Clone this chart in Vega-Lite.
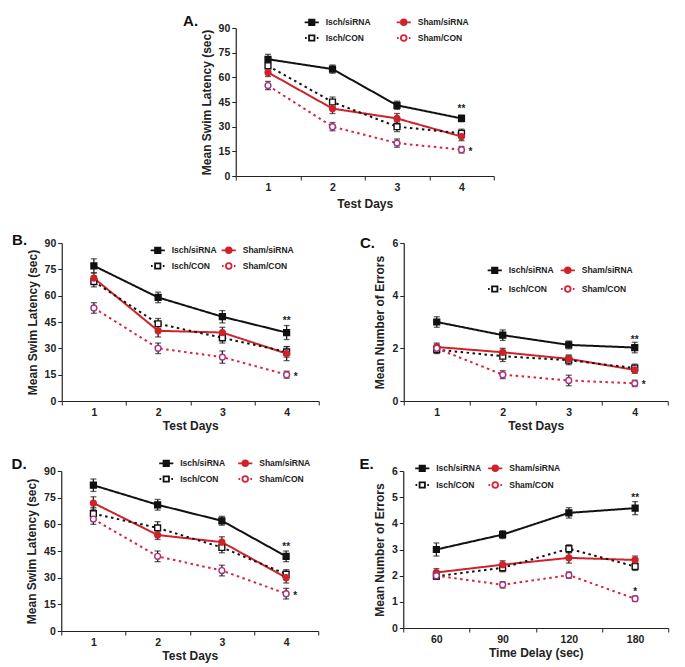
{
  "$schema": "https://vega.github.io/schema/vega-lite/v6.json",
  "background": "white",
  "padding": {"left": 11, "top": 14, "right": 5, "bottom": 5},
  "config": {
    "font": "Liberation Sans",
    "view": {"stroke": null},
    "axis": {"labelFontWeight": "bold", "labelFontSize": 10.5, "labelColor": "#222", "titleFontWeight": "bold", "titleFontSize": 12, "titleColor": "#222", "domainColor": "#222", "tickColor": "#222", "grid": false, "tickSize": 4, "domainWidth": 1.2, "tickWidth": 1, "labelPadding": 2},
    "axisX": {"labelAngle": 0, "tickBand": "extent", "titlePadding": 3},
    "axisY": {"titlePadding": 5},
    "legend": {"labelFontSize": 8.5, "labelFontWeight": "bold", "labelColor": "#222", "symbolSize": 200, "symbolStrokeWidth": 1.8, "labelOffset": 6, "padding": 0, "rowPadding": 1, "orient": "none", "direction": "horizontal", "columns": 2, "title": null},
    "title": {"fontSize": 15, "fontWeight": "bold", "anchor": "start", "frame": "bounds", "color": "#111"}
  },
  "datasets": {
    "A": [
      {"day": 1, "series": "Isch/siRNA", "mean": 71, "lo": 68, "hi": 74},
      {"day": 2, "series": "Isch/siRNA", "mean": 65, "lo": 62.5, "hi": 67.5},
      {"day": 3, "series": "Isch/siRNA", "mean": 43, "lo": 40.5, "hi": 45.5},
      {"day": 4, "series": "Isch/siRNA", "mean": 35, "lo": 33, "hi": 37},
      {"day": 1, "series": "Sham/siRNA", "mean": 63, "lo": 60.5, "hi": 65.5},
      {"day": 2, "series": "Sham/siRNA", "mean": 41, "lo": 38, "hi": 44},
      {"day": 3, "series": "Sham/siRNA", "mean": 35, "lo": 32, "hi": 38},
      {"day": 4, "series": "Sham/siRNA", "mean": 24, "lo": 21.5, "hi": 26.5},
      {"day": 1, "series": "Isch/CON", "mean": 67, "lo": 64, "hi": 70},
      {"day": 2, "series": "Isch/CON", "mean": 45, "lo": 42, "hi": 48},
      {"day": 3, "series": "Isch/CON", "mean": 30, "lo": 27, "hi": 33},
      {"day": 4, "series": "Isch/CON", "mean": 26, "lo": 23.5, "hi": 28.5},
      {"day": 1, "series": "Sham/CON", "mean": 55, "lo": 52.5, "hi": 57.5},
      {"day": 2, "series": "Sham/CON", "mean": 30, "lo": 27.5, "hi": 32.5},
      {"day": 3, "series": "Sham/CON", "mean": 20, "lo": 17.5, "hi": 22.5},
      {"day": 4, "series": "Sham/CON", "mean": 16, "lo": 14, "hi": 18}
    ],
    "Astars": [
      {"day": 4, "y": 40.5, "label": "**", "pos": "above"},
      {"day": 4, "y": 16, "label": "*", "pos": "right"}
    ],
    "B": [
      {"day": 1, "series": "Isch/siRNA", "mean": 77, "lo": 73, "hi": 81},
      {"day": 2, "series": "Isch/siRNA", "mean": 59, "lo": 56, "hi": 62},
      {"day": 3, "series": "Isch/siRNA", "mean": 48, "lo": 44.5, "hi": 51.5},
      {"day": 4, "series": "Isch/siRNA", "mean": 39, "lo": 35, "hi": 43},
      {"day": 1, "series": "Sham/siRNA", "mean": 70, "lo": 67, "hi": 73},
      {"day": 2, "series": "Sham/siRNA", "mean": 40, "lo": 36.5, "hi": 43.5},
      {"day": 3, "series": "Sham/siRNA", "mean": 39, "lo": 36, "hi": 42},
      {"day": 4, "series": "Sham/siRNA", "mean": 27, "lo": 23, "hi": 31},
      {"day": 1, "series": "Isch/CON", "mean": 68, "lo": 65, "hi": 71},
      {"day": 2, "series": "Isch/CON", "mean": 44, "lo": 41, "hi": 47},
      {"day": 3, "series": "Isch/CON", "mean": 36, "lo": 33, "hi": 39},
      {"day": 4, "series": "Isch/CON", "mean": 28, "lo": 25, "hi": 31},
      {"day": 1, "series": "Sham/CON", "mean": 53, "lo": 50, "hi": 56},
      {"day": 2, "series": "Sham/CON", "mean": 30, "lo": 27, "hi": 33},
      {"day": 3, "series": "Sham/CON", "mean": 25, "lo": 21.5, "hi": 28.5},
      {"day": 4, "series": "Sham/CON", "mean": 15, "lo": 13, "hi": 17}
    ],
    "Bstars": [
      {"day": 4, "y": 45.5, "label": "**", "pos": "above"},
      {"day": 4, "y": 15, "label": "*", "pos": "right"}
    ],
    "C": [
      {"day": 1, "series": "Isch/siRNA", "mean": 3.0, "lo": 2.8, "hi": 3.2},
      {"day": 2, "series": "Isch/siRNA", "mean": 2.5, "lo": 2.3, "hi": 2.7},
      {"day": 3, "series": "Isch/siRNA", "mean": 2.13, "lo": 1.98, "hi": 2.28},
      {"day": 4, "series": "Isch/siRNA", "mean": 2.03, "lo": 1.83, "hi": 2.23},
      {"day": 1, "series": "Sham/siRNA", "mean": 2.05, "lo": 1.9, "hi": 2.2},
      {"day": 2, "series": "Sham/siRNA", "mean": 1.85, "lo": 1.7, "hi": 2.0},
      {"day": 3, "series": "Sham/siRNA", "mean": 1.6, "lo": 1.45, "hi": 1.75},
      {"day": 4, "series": "Sham/siRNA", "mean": 1.18, "lo": 1.05, "hi": 1.31},
      {"day": 1, "series": "Isch/CON", "mean": 1.95, "lo": 1.8, "hi": 2.1},
      {"day": 2, "series": "Isch/CON", "mean": 1.7, "lo": 1.5, "hi": 1.9},
      {"day": 3, "series": "Isch/CON", "mean": 1.55, "lo": 1.38, "hi": 1.72},
      {"day": 4, "series": "Isch/CON", "mean": 1.25, "lo": 1.1, "hi": 1.4},
      {"day": 1, "series": "Sham/CON", "mean": 2.0, "lo": 1.85, "hi": 2.15},
      {"day": 2, "series": "Sham/CON", "mean": 1.0, "lo": 0.85, "hi": 1.15},
      {"day": 3, "series": "Sham/CON", "mean": 0.78, "lo": 0.58, "hi": 0.98},
      {"day": 4, "series": "Sham/CON", "mean": 0.67, "lo": 0.55, "hi": 0.79}
    ],
    "Cstars": [
      {"day": 4, "y": 2.33, "label": "**", "pos": "above"},
      {"day": 4, "y": 0.67, "label": "*", "pos": "right"}
    ],
    "D": [
      {"day": 1, "series": "Isch/siRNA", "mean": 82, "lo": 78.5, "hi": 85.5},
      {"day": 2, "series": "Isch/siRNA", "mean": 71, "lo": 68, "hi": 74},
      {"day": 3, "series": "Isch/siRNA", "mean": 62, "lo": 59.5, "hi": 64.5},
      {"day": 4, "series": "Isch/siRNA", "mean": 42, "lo": 39, "hi": 45},
      {"day": 1, "series": "Sham/siRNA", "mean": 72, "lo": 68.5, "hi": 75.5},
      {"day": 2, "series": "Sham/siRNA", "mean": 54, "lo": 51.5, "hi": 56.5},
      {"day": 3, "series": "Sham/siRNA", "mean": 50, "lo": 47, "hi": 53},
      {"day": 4, "series": "Sham/siRNA", "mean": 30, "lo": 27, "hi": 33},
      {"day": 1, "series": "Isch/CON", "mean": 66, "lo": 62.5, "hi": 69.5},
      {"day": 2, "series": "Isch/CON", "mean": 58, "lo": 54.5, "hi": 61.5},
      {"day": 3, "series": "Isch/CON", "mean": 47, "lo": 44, "hi": 50},
      {"day": 4, "series": "Isch/CON", "mean": 32, "lo": 29.5, "hi": 34.5},
      {"day": 1, "series": "Sham/CON", "mean": 63, "lo": 60, "hi": 66},
      {"day": 2, "series": "Sham/CON", "mean": 42, "lo": 39, "hi": 45},
      {"day": 3, "series": "Sham/CON", "mean": 34, "lo": 31, "hi": 37},
      {"day": 4, "series": "Sham/CON", "mean": 21, "lo": 18, "hi": 24}
    ],
    "Dstars": [
      {"day": 4, "y": 47.5, "label": "**", "pos": "above"},
      {"day": 4, "y": 21, "label": "*", "pos": "right"}
    ],
    "E": [
      {"delay": 60, "series": "Isch/siRNA", "mean": 3.0, "lo": 2.75, "hi": 3.25},
      {"delay": 90, "series": "Isch/siRNA", "mean": 3.57, "lo": 3.42, "hi": 3.72},
      {"delay": 120, "series": "Isch/siRNA", "mean": 4.4, "lo": 4.2, "hi": 4.6},
      {"delay": 180, "series": "Isch/siRNA", "mean": 4.58, "lo": 4.33, "hi": 4.83},
      {"delay": 60, "series": "Sham/siRNA", "mean": 2.12, "lo": 1.97, "hi": 2.27},
      {"delay": 90, "series": "Sham/siRNA", "mean": 2.42, "lo": 2.27, "hi": 2.57},
      {"delay": 120, "series": "Sham/siRNA", "mean": 2.68, "lo": 2.48, "hi": 2.88},
      {"delay": 180, "series": "Sham/siRNA", "mean": 2.6, "lo": 2.45, "hi": 2.75},
      {"delay": 60, "series": "Isch/CON", "mean": 1.98, "lo": 1.86, "hi": 2.1},
      {"delay": 90, "series": "Isch/CON", "mean": 2.3, "lo": 2.15, "hi": 2.45},
      {"delay": 120, "series": "Isch/CON", "mean": 3.03, "lo": 2.88, "hi": 3.18},
      {"delay": 180, "series": "Isch/CON", "mean": 2.35, "lo": 2.2, "hi": 2.5},
      {"delay": 60, "series": "Sham/CON", "mean": 2.0, "lo": 1.88, "hi": 2.12},
      {"delay": 90, "series": "Sham/CON", "mean": 1.65, "lo": 1.53, "hi": 1.77},
      {"delay": 120, "series": "Sham/CON", "mean": 2.02, "lo": 1.9, "hi": 2.14},
      {"delay": 180, "series": "Sham/CON", "mean": 1.12, "lo": 1.02, "hi": 1.22}
    ],
    "Estars": [
      {"delay": 180, "y": 4.95, "label": "**", "pos": "above"},
      {"delay": 180, "y": 1.38, "label": "*", "pos": "above"}
    ]
  },
  "vconcat": [
    {
      "width": 258, "height": 148,
      "title": {"text": "A.", "dx": -17, "offset": -15},
      "encoding": {
        "x": {"field": "day", "type": "ordinal", "scale": {"type": "band", "paddingInner": 0, "paddingOuter": 0}, "axis": {"title": "Test Days", "titlePadding": 6}},
        "y": {"field": "mean", "type": "quantitative", "scale": {"domain": [0, 90]}, "axis": {"values": [0, 15, 30, 45, 60, 75, 90], "title": "Mean Swim Latency (sec)"}}
      },
      "layer": [
        {
          "data": {"name": "A"},
          "mark": {"type": "line", "strokeWidth": 2},
          "encoding": {
            "stroke": {"field": "series", "type": "nominal", "scale": {"domain": ["Isch/siRNA", "Sham/siRNA", "Isch/CON", "Sham/CON"], "range": ["#111111", "#d0222a", "#111111", "#d6243e"]}, "legend": null},
            "strokeDash": {"field": "series", "type": "nominal", "scale": {"domain": ["Isch/siRNA", "Sham/siRNA", "Isch/CON", "Sham/CON"], "range": [[1, 0], [1, 0], [2.5, 3.5], [2.5, 3.5]]}, "legend": null}
          }
        },
        {
          "data": {"name": "A"},
          "mark": {"type": "errorbar", "ticks": {"size": 6, "thickness": 1.3}, "thickness": 1.3, "color": "#222222"},
          "encoding": {"y": {"field": "lo", "type": "quantitative", "title": "Mean Swim Latency (sec)"}, "y2": {"field": "hi"}}
        },
        {
          "data": {"name": "A"},
          "transform": [{"filter": "indexof(datum.series, 'Isch') == 0"}],
          "mark": {"type": "square", "size": 34, "strokeWidth": 1.4, "opacity": 1},
          "encoding": {
            "fill": {"field": "series", "type": "nominal", "scale": {"domain": ["Isch/siRNA", "Sham/siRNA", "Isch/CON", "Sham/CON"], "range": ["#111111", "#d0222a", "#ffffff", "#ffffff"]}, "legend": null},
            "stroke": {"field": "series", "type": "nominal", "legend": null}
          }
        },
        {
          "data": {"name": "A"},
          "transform": [{"filter": "indexof(datum.series, 'Sham') == 0"}],
          "mark": {"type": "circle", "size": 34, "strokeWidth": 1.4, "opacity": 1},
          "encoding": {
            "fill": {"field": "series", "type": "nominal", "legend": null},
            "stroke": {"condition": {"test": "datum.series == 'Sham/CON'", "value": "#a8307a"}, "value": "#d0222a"}
          }
        },
        {
          "data": {"name": "A"},
          "transform": [{"filter": "false"}],
          "mark": {"type": "point", "size": 200, "strokeWidth": 1.8, "opacity": 1},
          "encoding": {
            "shape": {"field": "series", "type": "nominal", "scale": {"domain": ["Isch/siRNA", "Sham/siRNA", "Isch/CON", "Sham/CON"], "range": ["M-1,0H1M-0.38,-0.38H0.38V0.38H-0.38Z", "M-1,0H1M0.4,0A0.4,0.4,0,1,1,-0.4,0A0.4,0.4,0,1,1,0.4,0Z", "M-0.95,0H-0.72M0.72,0H0.95M-0.38,-0.38H0.38V0.38H-0.38Z", "M-0.95,0H-0.72M0.72,0H0.95M0.4,0A0.4,0.4,0,1,1,-0.4,0A0.4,0.4,0,1,1,0.4,0Z"]},
              "legend": {"legendX": 68, "legendY": -14, "columnPadding": 22, "rowPadding": 1}},
            "fill": {"field": "series", "type": "nominal", "legend": {"legendX": 68, "legendY": -14, "columnPadding": 22, "rowPadding": 1}},
            "stroke": {"field": "series", "type": "nominal", "legend": {"legendX": 68, "legendY": -14, "columnPadding": 22, "rowPadding": 1}}
          }
        },
        {
          "data": {"name": "Astars"},
          "transform": [{"filter": "datum.pos == 'above'"}],
          "mark": {"type": "text", "fontWeight": "bold", "fontSize": 10, "baseline": "middle", "fill": "#222"},
          "encoding": {"y": {"field": "y", "type": "quantitative"}, "text": {"field": "label"}}
        },
        {
          "data": {"name": "Astars"},
          "transform": [{"filter": "datum.pos == 'right'"}],
          "mark": {"type": "text", "fontWeight": "bold", "fontSize": 10, "baseline": "middle", "align": "left", "dx": 7, "dy": 2, "fill": "#222"},
          "encoding": {"y": {"field": "y", "type": "quantitative"}, "text": {"field": "label"}}
        }
      ],
      "resolve": {"legend": {"stroke": "independent", "fill": "independent", "shape": "independent", "strokeDash": "independent"}}
    },
    {
      "hconcat": [
        {
          "width": 257, "height": 158,
          "title": {"text": "B.", "dx": -14, "offset": -10},
          "encoding": {
            "x": {"field": "day", "type": "ordinal", "scale": {"type": "band", "paddingInner": 0, "paddingOuter": 0}, "axis": {"title": "Test Days"}},
            "y": {"field": "mean", "type": "quantitative", "scale": {"domain": [0, 90]}, "axis": {"values": [0, 15, 30, 45, 60, 75, 90], "title": "Mean Swim Latency (sec)"}}
          },
          "layer": [
            {
              "data": {"name": "B"},
              "mark": {"type": "line", "strokeWidth": 2},
              "encoding": {
                "stroke": {"field": "series", "type": "nominal", "scale": {"domain": ["Isch/siRNA", "Sham/siRNA", "Isch/CON", "Sham/CON"], "range": ["#111111", "#d0222a", "#111111", "#d6243e"]}, "legend": null},
                "strokeDash": {"field": "series", "type": "nominal", "scale": {"domain": ["Isch/siRNA", "Sham/siRNA", "Isch/CON", "Sham/CON"], "range": [[1, 0], [1, 0], [2.5, 3.5], [2.5, 3.5]]}, "legend": null}
              }
            },
            {
              "data": {"name": "B"},
              "mark": {"type": "errorbar", "ticks": {"size": 6, "thickness": 1.3}, "thickness": 1.3, "color": "#222222"},
              "encoding": {"y": {"field": "lo", "type": "quantitative", "title": "Mean Swim Latency (sec)"}, "y2": {"field": "hi"}}
            },
            {
              "data": {"name": "B"},
              "transform": [{"filter": "indexof(datum.series, 'Isch') == 0"}],
              "mark": {"type": "square", "size": 34, "strokeWidth": 1.4, "opacity": 1},
              "encoding": {
                "fill": {"field": "series", "type": "nominal", "scale": {"domain": ["Isch/siRNA", "Sham/siRNA", "Isch/CON", "Sham/CON"], "range": ["#111111", "#d0222a", "#ffffff", "#ffffff"]}, "legend": null},
                "stroke": {"field": "series", "type": "nominal", "legend": null}
              }
            },
            {
              "data": {"name": "B"},
              "transform": [{"filter": "indexof(datum.series, 'Sham') == 0"}],
              "mark": {"type": "circle", "size": 34, "strokeWidth": 1.4, "opacity": 1},
              "encoding": {
                "fill": {"field": "series", "type": "nominal", "legend": null},
                "stroke": {"condition": {"test": "datum.series == 'Sham/CON'", "value": "#a8307a"}, "value": "#d0222a"}
              }
            },
            {
              "data": {"name": "B"},
              "transform": [{"filter": "false"}],
              "mark": {"type": "point", "size": 200, "strokeWidth": 1.8, "opacity": 1},
              "encoding": {
                "shape": {"field": "series", "type": "nominal", "scale": {"domain": ["Isch/siRNA", "Sham/siRNA", "Isch/CON", "Sham/CON"], "range": ["M-1,0H1M-0.38,-0.38H0.38V0.38H-0.38Z", "M-1,0H1M0.4,0A0.4,0.4,0,1,1,-0.4,0A0.4,0.4,0,1,1,0.4,0Z", "M-0.95,0H-0.72M0.72,0H0.95M-0.38,-0.38H0.38V0.38H-0.38Z", "M-0.95,0H-0.72M0.72,0H0.95M0.4,0A0.4,0.4,0,1,1,-0.4,0A0.4,0.4,0,1,1,0.4,0Z"]},
                  "legend": {"legendX": 88, "legendY": -1, "columnPadding": 1, "rowPadding": 1}},
                "fill": {"field": "series", "type": "nominal", "legend": {"legendX": 88, "legendY": -1, "columnPadding": 1, "rowPadding": 1}},
                "stroke": {"field": "series", "type": "nominal", "legend": {"legendX": 88, "legendY": -1, "columnPadding": 1, "rowPadding": 1}}
              }
            },
            {
              "data": {"name": "Bstars"},
              "transform": [{"filter": "datum.pos == 'above'"}],
              "mark": {"type": "text", "fontWeight": "bold", "fontSize": 10, "baseline": "middle", "fill": "#222"},
              "encoding": {"y": {"field": "y", "type": "quantitative"}, "text": {"field": "label"}}
            },
            {
              "data": {"name": "Bstars"},
              "transform": [{"filter": "datum.pos == 'right'"}],
              "mark": {"type": "text", "fontWeight": "bold", "fontSize": 10, "baseline": "middle", "align": "left", "dx": 7, "dy": 2, "fill": "#222"},
              "encoding": {"y": {"field": "y", "type": "quantitative"}, "text": {"field": "label"}}
            }
          ],
          "resolve": {"legend": {"stroke": "independent", "fill": "independent", "shape": "independent", "strokeDash": "independent"}}
        },
        {
          "width": 264, "height": 158,
          "title": {"text": "C.", "dx": -14, "offset": -13},
          "encoding": {
            "x": {"field": "day", "type": "ordinal", "scale": {"type": "band", "paddingInner": 0, "paddingOuter": 0}, "axis": {"title": "Test Days"}},
            "y": {"field": "mean", "type": "quantitative", "scale": {"domain": [0, 6]}, "axis": {"values": [0, 2, 4, 6], "title": "Mean Number of Errors"}}
          },
          "layer": [
            {
              "data": {"name": "C"},
              "mark": {"type": "line", "strokeWidth": 2},
              "encoding": {
                "stroke": {"field": "series", "type": "nominal", "scale": {"domain": ["Isch/siRNA", "Sham/siRNA", "Isch/CON", "Sham/CON"], "range": ["#111111", "#d0222a", "#111111", "#d6243e"]}, "legend": null},
                "strokeDash": {"field": "series", "type": "nominal", "scale": {"domain": ["Isch/siRNA", "Sham/siRNA", "Isch/CON", "Sham/CON"], "range": [[1, 0], [1, 0], [2.5, 3.5], [2.5, 3.5]]}, "legend": null}
              }
            },
            {
              "data": {"name": "C"},
              "mark": {"type": "errorbar", "ticks": {"size": 6, "thickness": 1.3}, "thickness": 1.3, "color": "#222222"},
              "encoding": {"y": {"field": "lo", "type": "quantitative", "title": "Mean Number of Errors"}, "y2": {"field": "hi"}}
            },
            {
              "data": {"name": "C"},
              "transform": [{"filter": "indexof(datum.series, 'Isch') == 0"}],
              "mark": {"type": "square", "size": 34, "strokeWidth": 1.4, "opacity": 1},
              "encoding": {
                "fill": {"field": "series", "type": "nominal", "scale": {"domain": ["Isch/siRNA", "Sham/siRNA", "Isch/CON", "Sham/CON"], "range": ["#111111", "#d0222a", "#ffffff", "#ffffff"]}, "legend": null},
                "stroke": {"field": "series", "type": "nominal", "legend": null}
              }
            },
            {
              "data": {"name": "C"},
              "transform": [{"filter": "indexof(datum.series, 'Sham') == 0"}],
              "mark": {"type": "circle", "size": 34, "strokeWidth": 1.4, "opacity": 1},
              "encoding": {
                "fill": {"field": "series", "type": "nominal", "legend": null},
                "stroke": {"condition": {"test": "datum.series == 'Sham/CON'", "value": "#a8307a"}, "value": "#d0222a"}
              }
            },
            {
              "data": {"name": "C"},
              "transform": [{"filter": "false"}],
              "mark": {"type": "point", "size": 200, "strokeWidth": 1.8, "opacity": 1},
              "encoding": {
                "shape": {"field": "series", "type": "nominal", "scale": {"domain": ["Isch/siRNA", "Sham/siRNA", "Isch/CON", "Sham/CON"], "range": ["M-1,0H1M-0.38,-0.38H0.38V0.38H-0.38Z", "M-1,0H1M0.4,0A0.4,0.4,0,1,1,-0.4,0A0.4,0.4,0,1,1,0.4,0Z", "M-0.95,0H-0.72M0.72,0H0.95M-0.38,-0.38H0.38V0.38H-0.38Z", "M-0.95,0H-0.72M0.72,0H0.95M0.4,0A0.4,0.4,0,1,1,-0.4,0A0.4,0.4,0,1,1,0.4,0Z"]},
                  "legend": {"legendX": 83, "legendY": 19, "columnPadding": 3, "rowPadding": 4}},
                "fill": {"field": "series", "type": "nominal", "legend": {"legendX": 83, "legendY": 19, "columnPadding": 3, "rowPadding": 4}},
                "stroke": {"field": "series", "type": "nominal", "legend": {"legendX": 83, "legendY": 19, "columnPadding": 3, "rowPadding": 4}}
              }
            },
            {
              "data": {"name": "Cstars"},
              "transform": [{"filter": "datum.pos == 'above'"}],
              "mark": {"type": "text", "fontWeight": "bold", "fontSize": 10, "baseline": "middle", "fill": "#222"},
              "encoding": {"y": {"field": "y", "type": "quantitative"}, "text": {"field": "label"}}
            },
            {
              "data": {"name": "Cstars"},
              "transform": [{"filter": "datum.pos == 'right'"}],
              "mark": {"type": "text", "fontWeight": "bold", "fontSize": 10, "baseline": "middle", "align": "left", "dx": 7, "dy": 2, "fill": "#222"},
              "encoding": {"y": {"field": "y", "type": "quantitative"}, "text": {"field": "label"}}
            }
          ],
          "resolve": {"legend": {"stroke": "independent", "fill": "independent", "shape": "independent", "strokeDash": "independent"}}
        }
      ],
      "spacing": 40,
      "resolve": {"scale": {"stroke": "independent", "fill": "independent", "shape": "independent", "strokeDash": "independent"}, "legend": {"stroke": "independent", "fill": "independent", "shape": "independent", "strokeDash": "independent"}}
    },
    {
      "hconcat": [
        {
          "width": 257, "height": 160,
          "title": {"text": "D.", "dx": -14, "offset": -17},
          "encoding": {
            "x": {"field": "day", "type": "ordinal", "scale": {"type": "band", "paddingInner": 0, "paddingOuter": 0}, "axis": {"title": "Test Days"}},
            "y": {"field": "mean", "type": "quantitative", "scale": {"domain": [0, 90]}, "axis": {"values": [0, 15, 30, 45, 60, 75, 90], "title": "Mean Swim Latency (sec)"}}
          },
          "layer": [
            {
              "data": {"name": "D"},
              "mark": {"type": "line", "strokeWidth": 2},
              "encoding": {
                "stroke": {"field": "series", "type": "nominal", "scale": {"domain": ["Isch/siRNA", "Sham/siRNA", "Isch/CON", "Sham/CON"], "range": ["#111111", "#d0222a", "#111111", "#d6243e"]}, "legend": null},
                "strokeDash": {"field": "series", "type": "nominal", "scale": {"domain": ["Isch/siRNA", "Sham/siRNA", "Isch/CON", "Sham/CON"], "range": [[1, 0], [1, 0], [2.5, 3.5], [2.5, 3.5]]}, "legend": null}
              }
            },
            {
              "data": {"name": "D"},
              "mark": {"type": "errorbar", "ticks": {"size": 6, "thickness": 1.3}, "thickness": 1.3, "color": "#222222"},
              "encoding": {"y": {"field": "lo", "type": "quantitative", "title": "Mean Swim Latency (sec)"}, "y2": {"field": "hi"}}
            },
            {
              "data": {"name": "D"},
              "transform": [{"filter": "indexof(datum.series, 'Isch') == 0"}],
              "mark": {"type": "square", "size": 34, "strokeWidth": 1.4, "opacity": 1},
              "encoding": {
                "fill": {"field": "series", "type": "nominal", "scale": {"domain": ["Isch/siRNA", "Sham/siRNA", "Isch/CON", "Sham/CON"], "range": ["#111111", "#d0222a", "#ffffff", "#ffffff"]}, "legend": null},
                "stroke": {"field": "series", "type": "nominal", "legend": null}
              }
            },
            {
              "data": {"name": "D"},
              "transform": [{"filter": "indexof(datum.series, 'Sham') == 0"}],
              "mark": {"type": "circle", "size": 34, "strokeWidth": 1.4, "opacity": 1},
              "encoding": {
                "fill": {"field": "series", "type": "nominal", "legend": null},
                "stroke": {"condition": {"test": "datum.series == 'Sham/CON'", "value": "#a8307a"}, "value": "#d0222a"}
              }
            },
            {
              "data": {"name": "D"},
              "transform": [{"filter": "false"}],
              "mark": {"type": "point", "size": 200, "strokeWidth": 1.8, "opacity": 1},
              "encoding": {
                "shape": {"field": "series", "type": "nominal", "scale": {"domain": ["Isch/siRNA", "Sham/siRNA", "Isch/CON", "Sham/CON"], "range": ["M-1,0H1M-0.38,-0.38H0.38V0.38H-0.38Z", "M-1,0H1M0.4,0A0.4,0.4,0,1,1,-0.4,0A0.4,0.4,0,1,1,0.4,0Z", "M-0.95,0H-0.72M0.72,0H0.95M-0.38,-0.38H0.38V0.38H-0.38Z", "M-0.95,0H-0.72M0.72,0H0.95M0.4,0A0.4,0.4,0,1,1,-0.4,0A0.4,0.4,0,1,1,0.4,0Z"]},
                  "legend": {"legendX": 97, "legendY": -16, "columnPadding": 9, "rowPadding": 1}},
                "fill": {"field": "series", "type": "nominal", "legend": {"legendX": 97, "legendY": -16, "columnPadding": 9, "rowPadding": 1}},
                "stroke": {"field": "series", "type": "nominal", "legend": {"legendX": 97, "legendY": -16, "columnPadding": 9, "rowPadding": 1}}
              }
            },
            {
              "data": {"name": "Dstars"},
              "transform": [{"filter": "datum.pos == 'above'"}],
              "mark": {"type": "text", "fontWeight": "bold", "fontSize": 10, "baseline": "middle", "fill": "#222"},
              "encoding": {"y": {"field": "y", "type": "quantitative"}, "text": {"field": "label"}}
            },
            {
              "data": {"name": "Dstars"},
              "transform": [{"filter": "datum.pos == 'right'"}],
              "mark": {"type": "text", "fontWeight": "bold", "fontSize": 10, "baseline": "middle", "align": "left", "dx": 7, "dy": 2, "fill": "#222"},
              "encoding": {"y": {"field": "y", "type": "quantitative"}, "text": {"field": "label"}}
            }
          ],
          "resolve": {"legend": {"stroke": "independent", "fill": "independent", "shape": "independent", "strokeDash": "independent"}}
        },
        {
          "width": 265, "height": 157,
          "title": {"text": "E.", "dx": -14, "offset": -12},
          "encoding": {
            "x": {"field": "delay", "type": "ordinal", "scale": {"type": "band", "paddingInner": 0, "paddingOuter": 0}, "axis": {"title": "Time Delay (sec)"}},
            "y": {"field": "mean", "type": "quantitative", "scale": {"domain": [0, 6]}, "axis": {"values": [0, 1, 2, 3, 4, 5, 6], "title": "Mean Number of Errors"}}
          },
          "layer": [
            {
              "data": {"name": "E"},
              "mark": {"type": "line", "strokeWidth": 2},
              "encoding": {
                "stroke": {"field": "series", "type": "nominal", "scale": {"domain": ["Isch/siRNA", "Sham/siRNA", "Isch/CON", "Sham/CON"], "range": ["#111111", "#d0222a", "#111111", "#d6243e"]}, "legend": null},
                "strokeDash": {"field": "series", "type": "nominal", "scale": {"domain": ["Isch/siRNA", "Sham/siRNA", "Isch/CON", "Sham/CON"], "range": [[1, 0], [1, 0], [2.5, 3.5], [2.5, 3.5]]}, "legend": null}
              }
            },
            {
              "data": {"name": "E"},
              "mark": {"type": "errorbar", "ticks": {"size": 6, "thickness": 1.3}, "thickness": 1.3, "color": "#222222"},
              "encoding": {"y": {"field": "lo", "type": "quantitative", "title": "Mean Number of Errors"}, "y2": {"field": "hi"}}
            },
            {
              "data": {"name": "E"},
              "transform": [{"filter": "indexof(datum.series, 'Isch') == 0"}],
              "mark": {"type": "square", "size": 34, "strokeWidth": 1.4, "opacity": 1},
              "encoding": {
                "fill": {"field": "series", "type": "nominal", "scale": {"domain": ["Isch/siRNA", "Sham/siRNA", "Isch/CON", "Sham/CON"], "range": ["#111111", "#d0222a", "#ffffff", "#ffffff"]}, "legend": null},
                "stroke": {"field": "series", "type": "nominal", "legend": null}
              }
            },
            {
              "data": {"name": "E"},
              "transform": [{"filter": "indexof(datum.series, 'Sham') == 0"}],
              "mark": {"type": "circle", "size": 34, "strokeWidth": 1.4, "opacity": 1},
              "encoding": {
                "fill": {"field": "series", "type": "nominal", "legend": null},
                "stroke": {"condition": {"test": "datum.series == 'Sham/CON'", "value": "#a8307a"}, "value": "#d0222a"}
              }
            },
            {
              "data": {"name": "E"},
              "transform": [{"filter": "false"}],
              "mark": {"type": "point", "size": 200, "strokeWidth": 1.8, "opacity": 1},
              "encoding": {
                "shape": {"field": "series", "type": "nominal", "scale": {"domain": ["Isch/siRNA", "Sham/siRNA", "Isch/CON", "Sham/CON"], "range": ["M-1,0H1M-0.38,-0.38H0.38V0.38H-0.38Z", "M-1,0H1M0.4,0A0.4,0.4,0,1,1,-0.4,0A0.4,0.4,0,1,1,0.4,0Z", "M-0.95,0H-0.72M0.72,0H0.95M-0.38,-0.38H0.38V0.38H-0.38Z", "M-0.95,0H-0.72M0.72,0H0.95M0.4,0A0.4,0.4,0,1,1,-0.4,0A0.4,0.4,0,1,1,0.4,0Z"]},
                  "legend": {"legendX": 11, "legendY": -11, "columnPadding": 3, "rowPadding": 2}},
                "fill": {"field": "series", "type": "nominal", "legend": {"legendX": 11, "legendY": -11, "columnPadding": 3, "rowPadding": 2}},
                "stroke": {"field": "series", "type": "nominal", "legend": {"legendX": 11, "legendY": -11, "columnPadding": 3, "rowPadding": 2}}
              }
            },
            {
              "data": {"name": "Estars"},
              "mark": {"type": "text", "fontWeight": "bold", "fontSize": 10, "baseline": "middle", "fill": "#222"},
              "encoding": {"y": {"field": "y", "type": "quantitative"}, "text": {"field": "label"}}
            }
          ],
          "resolve": {"legend": {"stroke": "independent", "fill": "independent", "shape": "independent", "strokeDash": "independent"}}
        }
      ],
      "spacing": 40,
      "resolve": {"scale": {"stroke": "independent", "fill": "independent", "shape": "independent", "strokeDash": "independent"}, "legend": {"stroke": "independent", "fill": "independent", "shape": "independent", "strokeDash": "independent"}}
    }
  ],
  "center": true,
  "spacing": 23,
  "resolve": {"scale": {"stroke": "independent", "fill": "independent", "shape": "independent", "strokeDash": "independent"}, "legend": {"stroke": "independent", "fill": "independent", "shape": "independent", "strokeDash": "independent"}}
}
